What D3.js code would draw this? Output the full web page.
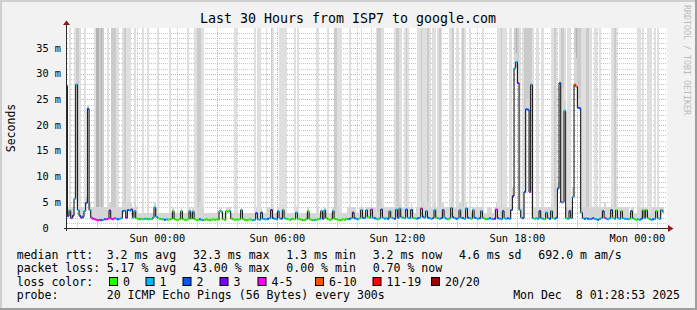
<!DOCTYPE html>
<html>
<head>
<meta charset="utf-8">
<script src="https://cdn.jsdelivr.net/npm/d3@7"></script>
<style>
    html, body { margin: 0; padding: 0; background: #f2f2f2; }
    svg { display: block; }
    text { font-family: "DejaVu Sans Mono", monospace; fill: #000; white-space: pre; }
</style>
</head>
<body>
<svg id="chart" width="697" height="310"></svg>
<script>
// median round trip time per 5 minute step (ms), rows of 2 hours
const median = [
    27.7, 2.3, 3.4, 1.9, 2.4, 5.7, 27.9, 3.5, 2.4, 2.0, 2.2, 3.3, 4.9, 23.2, 3.5, 2.0, 1.8, 1.7, 1.6, 1.5, 1.6, 1.5, 1.6, 1.7,
    1.7, 1.8, 3.4, 1.8, 1.7, 1.9, 1.8, 1.7, 1.8, 1.9, 3.3, 3.4, 2.0, 3.5, 3.4, 3.6, 2.0, 3.3, 1.9, 1.8, 1.7, 1.8, 1.7, 1.8,
    1.8, 1.7, 1.8, 1.7, 2.0, 4.0, 2.2, 1.9, 1.8, 1.7, 1.7, 1.6, 1.7, 1.6, 1.7, 1.8, 3.3, 1.7, 1.6, 1.6, 1.7, 3.3, 1.7, 1.6,
    1.6, 1.7, 3.3, 1.8, 3.2, 1.7, 1.6, 1.6, 1.7, 1.6, 1.5, 1.6, 1.7, 1.6, 1.5, 1.6, 1.7, 1.6, 1.7, 1.6, 3.3, 3.2, 1.7, 1.6,
    3.3, 3.2, 3.3, 1.8, 1.7, 1.6, 1.7, 1.6, 1.7, 3.5, 1.8, 1.6, 1.5, 1.6, 1.7, 1.6, 1.5, 1.6, 2.9, 1.7, 1.6, 3.0, 1.8, 1.7,
    1.7, 1.8, 1.9, 3.5, 1.9, 1.8, 1.7, 3.3, 1.9, 1.8, 3.5, 1.9, 1.8, 1.7, 1.6, 1.7, 1.8, 1.7, 3.0, 1.8, 1.7, 1.6, 1.5, 1.6,
    1.7, 3.3, 1.7, 1.6, 1.5, 1.6, 1.6, 1.7, 1.8, 3.3, 1.8, 3.5, 1.9, 1.7, 1.6, 1.7, 3.3, 1.8, 1.7, 1.6, 1.5, 1.6, 1.7, 1.6,
    1.8, 1.7, 1.8, 1.9, 3.0, 1.9, 1.8, 1.7, 1.9, 3.5, 2.0, 1.9, 3.5, 2.1, 2.0, 3.6, 2.0, 1.9, 1.8, 1.7, 1.9, 3.6, 2.0, 1.8,
    1.9, 1.8, 3.3, 2.0, 1.9, 1.8, 3.6, 2.0, 3.8, 2.1, 2.0, 1.9, 3.6, 2.0, 1.9, 3.5, 2.0, 1.9, 1.8, 1.9, 2.0, 3.8, 2.2, 2.0,
    3.3, 2.0, 1.9, 1.8, 1.9, 3.5, 2.0, 1.9, 1.8, 1.9, 3.5, 2.0, 1.8, 1.7, 1.9, 3.9, 2.1, 1.9, 1.8, 1.9, 3.5, 2.0, 1.9, 1.8,
    3.8, 2.0, 1.9, 1.8, 3.5, 2.0, 1.9, 1.8, 1.9, 3.3, 2.0, 1.8, 1.7, 1.8, 1.9, 1.8, 1.7, 1.8, 3.6, 1.9, 1.8, 1.7, 3.3, 1.9,
    1.8, 1.9, 1.8, 3.5, 6.2, 31.1, 32.3, 28.2, 3.5, 2.0, 1.9, 7.0, 23.1, 23.0, 7.0, 27.9, 1.9, 1.8, 1.9, 1.8, 3.3, 1.9, 1.8, 1.7,
    3.0, 1.9, 1.8, 3.3, 1.9, 1.8, 2.0, 7.7, 28.2, 5.0, 5.0, 22.8, 1.9, 1.8, 3.3, 1.9, 6.0, 27.9, 27.5, 23.4, 23.3, 3.0, 1.9, 1.8,
    1.9, 1.8, 1.7, 1.8, 1.9, 1.8, 1.7, 1.6, 1.8, 1.9, 3.3, 2.0, 1.8, 1.7, 1.9, 3.5, 2.0, 1.8, 3.5, 1.9, 1.8, 3.3, 1.9, 1.8,
    1.8, 1.7, 1.8, 3.3, 1.9, 1.7, 1.6, 1.7, 1.6, 1.8, 3.5, 1.9, 3.5, 1.9, 1.7, 1.6, 1.7, 1.8, 3.3, 1.9, 1.8, 3.5, 3.2, null
];

// lost pings (of 20) per step
const loss = [
    1, 2, 1, 4, 3, 1, 1, 1, 2, 3, 2, 1, 2, 2, 1, 4, 4, 5, 4, 5, 4, 2, 1, 2,
    4, 5, 3, 4, 5, 4, 1, 2, 1, 1, 2, 1, 3, 2, 1, 3, 1, 1, 0, 0, 1, 0, 0, 1,
    0, 1, 0, 0, 1, 1, 1, 0, 0, 0, 1, 2, 1, 0, 0, 0, 0, 0, 0, 0, 0, 0, 0, 0,
    0, 0, 1, 0, 1, 0, 0, 0, 2, 1, 1, 0, 0, 0, 0, 0, 0, 0, 0, 0, 0, 1, 0, 0,
    0, 0, 1, 0, 0, 0, 0, 0, 0, 1, 0, 0, 0, 0, 0, 0, 1, 1, 2, 1, 1, 2, 1, 1,
    1, 2, 1, 3, 2, 1, 1, 1, 1, 2, 1, 1, 0, 0, 0, 1, 0, 0, 1, 0, 0, 0, 0, 0,
    0, 0, 0, 0, 0, 1, 0, 0, 1, 1, 2, 1, 0, 0, 0, 0, 1, 0, 0, 0, 0, 0, 0, 0,
    0, 1, 2, 1, 3, 2, 1, 1, 0, 1, 2, 1, 1, 0, 1, 4, 1, 2, 1, 0, 1, 2, 1, 1,
    1, 2, 1, 0, 1, 2, 1, 2, 1, 1, 0, 1, 2, 1, 1, 2, 1, 0, 1, 2, 1, 5, 2, 1,
    1, 2, 1, 1, 2, 1, 0, 1, 1, 2, 2, 1, 1, 0, 1, 1, 2, 1, 2, 1, 1, 1, 2, 1,
    1, 2, 1, 0, 1, 2, 1, 1, 2, 1, 1, 0, 0, 1, 2, 1, 1, 3, 5, 2, 1, 1, 2, 1,
    1, 2, 1, 2, 3, 1, 1, 3, 1, 1, 2, 2, 2, 2, 5, 1, 1, 0, 1, 1, 2, 1, 1, 0,
    1, 1, 2, 1, 0, 1, 2, 2, 2, 4, 1, 1, 0, 1, 2, 1, 1, 8.6, 6, 2, 2, 1, 1, 2,
    1, 2, 1, 4, 2, 1, 1, 2, 1, 1, 2, 5, 1, 1, 1, 2, 0, 1, 0, 1, 1, 0, 1, 1,
    1, 1, 0, 2, 1, 0, 0, 1, 1, 2, 0, 1, 0, 0, 1, 1, 2, 1, 0, 1, 1, 1, 1, null
];

// top of the ordinary ping spread per step (ms)
const spreadTop = [
    33, 4, 5, 4, 4, 7, 29, 5, 4, 4, 4, 5, 6, 24, 5, 4, 4, 4, 4, 4, 4, 4, 4, 4,
    4, 4, 5, 4, 4, 4, 4, 4, 4, 4, 5, 5, 4, 5, 5, 5, 4, 5, 4, 3, 3, 3, 3, 3,
    3, 3, 3, 3, 3, 5, 4, 3, 3, 3, 3, 3, 3, 3, 3, 3, 4, 3, 3, 3, 3, 4, 3, 3,
    3, 3, 4, 3, 4, 3, 3, 4, 5, 5, 4, 3, 3, 3, 3, 3, 3, 3, 3, 3, 4, 4, 3, 3,
    4, 4, 4, 3, 3, 3, 3, 3, 3, 4, 3, 3, 3, 3, 3, 3, 3, 3, 4, 3, 3, 4, 3, 3,
    3, 4, 4, 4, 4, 3, 3, 4, 3, 3, 4, 3, 3, 3, 3, 3, 3, 3, 4, 3, 3, 3, 3, 3,
    3, 4, 3, 3, 3, 3, 3, 4, 3, 4, 3, 4, 3, 3, 3, 3, 4, 3, 4, 4, 3, 3, 3, 3,
    3, 4, 4, 4, 4, 4, 3, 3, 4, 4, 4, 3, 4, 4, 4, 5, 4, 4, 3, 3, 4, 5, 4, 4,
    4, 4, 4, 4, 4, 4, 5, 4, 5, 4, 4, 4, 5, 4, 4, 5, 4, 3, 4, 4, 4, 5, 5, 4,
    4, 5, 4, 4, 4, 5, 4, 4, 4, 4, 5, 4, 4, 4, 4, 5, 5, 4, 4, 4, 5, 4, 4, 4,
    5, 4, 4, 3, 4, 4, 4, 4, 4, 4, 4, 3, 3, 4, 4, 4, 3, 4, 5, 4, 4, 4, 4, 4,
    4, 4, 4, 5, 8, 34, 34, 30, 5, 4, 4, 10, 25, 25, 10, 29, 4, 4, 4, 4, 4, 4, 4, 4,
    4, 4, 4, 5, 4, 4, 4, 9, 29, 27, 27, 25, 4, 4, 4, 4, 8, 34, 33, 25, 25, 5, 4, 4,
    4, 4, 4, 4, 4, 4, 4, 4, 4, 4, 4, 5, 4, 4, 4, 5, 4, 4, 4, 4, 4, 4, 4, 4,
    4, 4, 3, 4, 4, 3, 3, 4, 4, 4, 4, 4, 4, 3, 3, 4, 4, 4, 4, 4, 4, 4, 4, null
];

// pings per step slower than the top of the graph
const slowPings = [
    0, 0, 1, 0, 0, 1, 2, 2, 1, 0, 0, 1, 0, 0, 0, 0, 0, 1, 3, 3, 2, 3, 2, 0,
    0, 1, 0, 2, 2, 2, 1, 1, 0, 0, 1, 2, 1, 1, 1, 0, 0, 1, 0, 0, 0, 0, 1, 0,
    0, 1, 0, 0, 0, 0, 0, 1, 0, 0, 0, 0, 0, 0, 1, 0, 0, 0, 0, 0, 0, 0, 0, 0,
    0, 1, 0, 0, 0, 1, 1, 2, 2, 1, 1, 0, 0, 0, 0, 0, 0, 0, 0, 0, 0, 0, 0, 0,
    0, 0, 0, 0, 0, 1, 1, 0, 0, 0, 0, 0, 0, 0, 0, 0, 0, 1, 0, 1, 1, 0, 0, 0,
    1, 0, 0, 2, 1, 0, 0, 0, 1, 1, 1, 1, 1, 0, 0, 0, 0, 1, 0, 1, 0, 0, 0, 0,
    0, 0, 0, 0, 0, 0, 1, 1, 0, 0, 0, 0, 0, 1, 0, 0, 0, 2, 2, 1, 1, 1, 0, 0,
    0, 0, 1, 0, 0, 0, 0, 0, 0, 1, 0, 0, 0, 0, 0, 1, 0, 0, 1, 2, 2, 1, 1, 0,
    0, 0, 0, 0, 0, 1, 2, 2, 1, 1, 0, 1, 2, 1, 0, 0, 0, 0, 0, 1, 1, 2, 1, 1,
    1, 2, 1, 0, 1, 1, 0, 1, 2, 1, 0, 0, 0, 0, 1, 1, 2, 0, 1, 1, 0, 1, 2, 1,
    0, 0, 1, 0, 0, 0, 0, 0, 0, 0, 1, 0, 0, 0, 0, 0, 0, 0, 0, 1, 1, 2, 1, 1,
    1, 0, 1, 1, 0, 2, 3, 2, 1, 0, 1, 2, 2, 2, 2, 2, 1, 0, 1, 1, 0, 1, 1, 0,
    0, 0, 0, 1, 1, 2, 1, 0, 1, 2, 2, 1, 0, 1, 1, 0, 0, 2, 3, 2, 2, 1, 1, 1,
    2, 2, 1, 1, 0, 1, 1, 0, 1, 0, 0, 0, 0, 0, 0, 1, 1, 2, 1, 0, 0, 0, 0, 0,
    0, 0, 0, 0, 0, 0, 0, 1, 1, 0, 1, 0, 0, 1, 1, 1, 0, 1, 0, 1, 0, 0, 0, null
];

const lossLimits = [0, 1, 2, 3, 5, 10, 19, 20];
const lossLabels = ['0', '1', '2', '3', '4-5', '6-10', '11-19', '20/20'];
const lossColors = ['#26ff00', '#00b8ff', '#0059ff', '#7e00ff', '#ff00ff', '#ff5500', '#ff0000', '#a00000'];

const rttStats = ['3.2 ms avg', '32.3 ms max', '1.3 ms min', '3.2 ms now', '4.6 ms sd', '692.0 m am/s'];
const lossStats = ['5.17 % avg', '43.00 % max', '0.00 % min', '0.70 % now'];
const probeText = '20 ICMP Echo Pings (56 Bytes) every 300s';
const stampText = 'Mon Dec  8 01:28:53 2025';
const title = 'Last 30 Hours from ISP7 to google.com';

const endTime = new Date(Date.UTC(2025, 11, 8, 1, 28, 53));
const startTime = new Date(endTime.getTime() - 30 * 3600e3);
const firstStep = new Date(Date.UTC(2025, 11, 6, 19, 25));
const stepMs = 300e3;

const W = 697, H = 310;
const plot = {left: 67, right: 667, top: 28, bottom: 228};

const svg = d3.select('#chart');

// background and rrdtool style frame
svg.append('rect').attr('width', W).attr('height', H).attr('fill', '#f2f2f2');
svg.append('rect').attr('x', 0).attr('y', 0).attr('width', W).attr('height', 2).attr('fill', '#cfcfcf');
svg.append('rect').attr('x', 0).attr('y', 0).attr('width', 2).attr('height', H).attr('fill', '#cfcfcf');
svg.append('rect').attr('x', 0).attr('y', H - 2).attr('width', W).attr('height', 2).attr('fill', '#9e9e9e');
svg.append('rect').attr('x', W - 2).attr('y', 0).attr('width', 2).attr('height', H).attr('fill', '#9e9e9e');

const x = d3.scaleUtc().domain([startTime, endTime]).range([plot.left, plot.right]);
const y = d3.scaleLinear().domain([0, 38.9]).range([plot.bottom, plot.top]);

svg.append('rect')
    .attr('x', plot.left).attr('y', plot.top)
    .attr('width', plot.right - plot.left).attr('height', plot.bottom - plot.top)
    .attr('fill', '#fff');

svg.append('defs').append('clipPath').attr('id', 'clip')
    .append('rect')
    .attr('x', plot.left).attr('y', plot.top)
    .attr('width', plot.right - plot.left).attr('height', plot.bottom - plot.top);

/* grid */

const px = v => Math.round(v) + 0.5;
const grid = svg.append('g').attr('fill', 'none').attr('stroke-dasharray', '1,1');

const minorY = y.ticks(38).filter(v => v % 5 !== 0);
const majorY = y.ticks(8).filter(v => v > 0);
const minorX = d3.utcHour.every(1).range(startTime, endTime).filter(t => t.getUTCHours() % 3 !== 0);
const majorX = d3.utcHour.every(3).range(startTime, endTime);

grid.selectAll('.hmin').data(minorY).join('line')
    .attr('x1', plot.left).attr('x2', plot.right)
    .attr('y1', d => px(y(d))).attr('y2', d => px(y(d)))
    .attr('stroke', '#c8c8c8');
grid.selectAll('.vmin').data(minorX).join('line')
    .attr('x1', d => px(x(d))).attr('x2', d => px(x(d)))
    .attr('y1', plot.top).attr('y2', plot.bottom)
    .attr('stroke', '#c8c8c8');
grid.selectAll('.hmaj').data(majorY).join('line')
    .attr('x1', plot.left).attr('x2', plot.right)
    .attr('y1', d => px(y(d))).attr('y2', d => px(y(d)))
    .attr('stroke', '#eaa0a0');
grid.selectAll('.vmaj').data(majorX).join('line')
    .attr('x1', d => px(x(d))).attr('x2', d => px(x(d)))
    .attr('y1', plot.top).attr('y2', plot.bottom)
    .attr('stroke', '#eaa0a0');

/* smoke */

const steps = median.map((m, i) => ({
    t0: new Date(firstStep.getTime() + i * stepMs),
    t1: new Date(firstStep.getTime() + (i + 1) * stepMs),
    median: m,
    loss: loss[i],
    spread: spreadTop[i],
    slow: slowPings[i]
})).filter(d => d.median != null);

const slowShade = ['none', '#dfdfdf', '#cbcbcb', '#b3b3b3', '#a0a0a0'];

const area = svg.append('g').attr('clip-path', 'url(#clip)');

area.append('g').attr('shape-rendering', 'crispEdges')
    .selectAll('rect').data(steps.filter(d => d.slow > 0)).join('rect')
    .attr('x', d => x(d.t0)).attr('width', d => x(d.t1) - x(d.t0))
    .attr('y', plot.top).attr('height', d => y(d.spread) - plot.top)
    .attr('fill', d => slowShade[Math.min(d.slow, 4)]);

area.append('g').attr('shape-rendering', 'crispEdges')
    .selectAll('rect').data(steps).join('rect')
    .attr('x', d => x(d.t0)).attr('width', d => x(d.t1) - x(d.t0))
    .attr('y', d => y(d.spread)).attr('height', d => Math.max(0, y(d.median) - y(d.spread) + 1))
    .attr('fill', '#d6d6d6');

/* median line */

const linePts = steps.map(d => [d.t0, d.median]);
const last = steps[steps.length - 1];
linePts.push([last.t1, last.median]);

area.append('path')
    .attr('d', d3.line().x(d => x(d[0])).y(d => y(d[1])).curve(d3.curveStepAfter)(linePts))
    .attr('fill', 'none')
    .attr('stroke', '#000')
    .attr('stroke-width', 1);

const lossColor = l => lossColors[lossLimits.findIndex(v => l <= v)];

area.append('g')
    .selectAll('rect').data(steps).join('rect')
    .attr('x', d => x(d.t0)).attr('width', d => x(d.t1) - x(d.t0))
    .attr('y', d => y(d.median) - 1).attr('height', 2)
    .attr('fill', d => lossColor(d.loss));

/* axes */

svg.append('path').attr('d', `M64,${plot.bottom + 0.5}H669`).attr('stroke', '#2c2c2c').attr('fill', 'none');
svg.append('path').attr('d', `M${plot.left - 0.5},${plot.bottom + 3}V24`).attr('stroke', '#2c2c2c').attr('fill', 'none');
svg.append('path').attr('d', `M668,225L673.5,228.5L668,232Z`).attr('fill', '#8b1a1a');
svg.append('path').attr('d', `M63,25L66.5,20.5L70,25Z`).attr('fill', '#8b1a1a');

svg.append('g').selectAll('text').data(y.ticks(8)).join('text')
    .attr('x', 61).attr('y', d => y(d) + 3.5)
    .attr('text-anchor', 'end')
    .attr('font-size', 10.3)
    .text(d => d === 0 ? '0  ' : d + ' m');

svg.append('g').selectAll('text').data(d3.utcHour.every(6).range(startTime, endTime)).join('text')
    .attr('x', d => x(d)).attr('y', 242)
    .attr('text-anchor', 'middle')
    .attr('font-size', 10.3)
    .text(d3.utcFormat('%a %H:%M'));

svg.append('text')
    .attr('transform', 'translate(15,128) rotate(-90)')
    .attr('text-anchor', 'middle')
    .attr('font-size', 11.5)
    .text('Seconds');

svg.append('text')
    .attr('x', 348).attr('y', 23)
    .attr('text-anchor', 'middle')
    .attr('font-size', 13.3)
    .text(title);

svg.append('text')
    .attr('transform', 'translate(684,5) rotate(90)')
    .attr('font-size', 8.3)
    .style('fill', '#bcbcbc')
    .text('RRDTOOL / TOBI OETIKER');

/* legend */

const fs = 11.55, charW = fs * 0.602, gap = 16.8, col = 106.7, lx = 16.7;
const legend = svg.append('g').attr('font-size', fs);

function flow(items, yy) {
    let xx = col;
    items.forEach(s => {
        legend.append('text').attr('x', xx).attr('y', yy).text(s);
        xx += s.length * charW + gap;
    });
}

legend.append('text').attr('x', lx).attr('y', 258.5).text('median rtt:');
flow(rttStats, 258.5);
legend.append('text').attr('x', lx).attr('y', 272).text('packet loss:');
flow(lossStats, 272);
legend.append('text').attr('x', lx).attr('y', 285.5).text('loss color:');

const keyX = [109, 145.5, 182.5, 219.5, 257.5, 315, 372.5, 431];
lossLabels.forEach((lab, i) => {
    legend.append('rect')
        .attr('x', keyX[i] + 0.5).attr('y', 277.5).attr('width', 8).attr('height', 8)
        .attr('fill', lossColors[i]).attr('stroke', '#000');
    legend.append('text').attr('x', keyX[i] + 14).attr('y', 285.5).text(lab);
});

legend.append('text').attr('x', lx).attr('y', 299).text('probe:');
legend.append('text').attr('x', col).attr('y', 299).text(probeText);
legend.append('text').attr('x', 680).attr('y', 299).attr('text-anchor', 'end').text(stampText);
</script>
</body>
</html>
